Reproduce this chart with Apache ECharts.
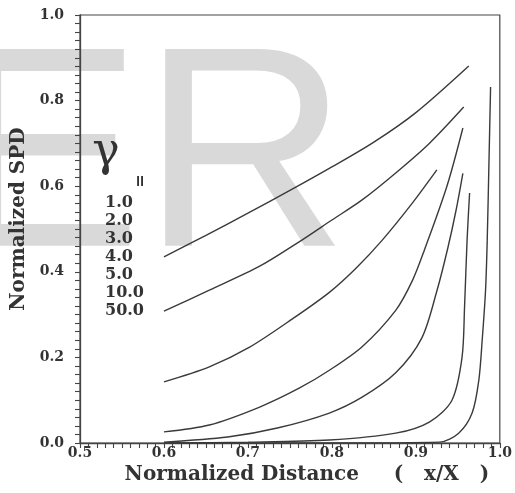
<!DOCTYPE html>
<html>
<head>
<meta charset="utf-8">
<script src="https://cdn.jsdelivr.net/npm/echarts@6/dist/echarts.min.js"></script>
<style>
html,body{margin:0;padding:0;background:#fff;}
#chart{width:515px;height:493px;}
</style>
</head>
<body>
<div id="chart"></div>
<script>
// ---- data ----
const gammaLabels = ['1.0', '2.0', '3.0', '4.0', '5.0', '10.0', '50.0'];

const x_g1  = [0.600, 0.650, 0.700, 0.750, 0.800, 0.850, 0.900, 0.963];
const y_g1  = [0.435, 0.485, 0.537, 0.590, 0.645, 0.703, 0.772, 0.881];

const x_g2  = [0.600, 0.654, 0.714, 0.761, 0.800, 0.836, 0.876, 0.916, 0.957];
const y_g2  = [0.308, 0.357, 0.413, 0.470, 0.521, 0.568, 0.631, 0.700, 0.785];

const x_g3  = [0.600, 0.654, 0.702, 0.753, 0.797, 0.829, 0.860, 0.896, 0.925];
const y_g3  = [0.143, 0.178, 0.224, 0.290, 0.352, 0.409, 0.474, 0.561, 0.638];

const x_g4  = [0.600, 0.654, 0.714, 0.761, 0.797, 0.836, 0.876, 0.896, 0.910, 0.937, 0.956];
const y_g4  = [0.026, 0.042, 0.084, 0.128, 0.170, 0.225, 0.310, 0.380, 0.450, 0.600, 0.736];

const x_g5  = [0.600, 0.676, 0.735, 0.797, 0.836, 0.876, 0.907, 0.925, 0.938, 0.948, 0.956];
const y_g5  = [0.002, 0.014, 0.035, 0.070, 0.107, 0.164, 0.245, 0.355, 0.455, 0.545, 0.630];

const x_g10 = [0.600, 0.700, 0.797, 0.876, 0.916, 0.943, 0.955, 0.958, 0.961, 0.964];
const y_g10 = [0.000, 0.002, 0.007, 0.023, 0.049, 0.100, 0.200, 0.318, 0.474, 0.584];

const x_g50 = [0.600, 0.800, 0.928, 0.951, 0.967, 0.975, 0.979, 0.983, 0.985, 0.987, 0.989];
const y_g50 = [0.000, 0.000, 0.002, 0.023, 0.070, 0.147, 0.240, 0.357, 0.474, 0.650, 0.832];

const xTicks = [0.5, 0.6, 0.7, 0.8, 0.9, 1.0];
const yTicks = [0.0, 0.2, 0.4, 0.6, 0.8, 1.0];

const xTitle = 'Normalized Distance     (   x/X   )';
const yTitle = 'Normalized SPD';
const watermark = 'ER';

// ---- build ----
const curves = [
  [x_g1, y_g1], [x_g2, y_g2], [x_g3, y_g3], [x_g4, y_g4],
  [x_g5, y_g5], [x_g10, y_g10], [x_g50, y_g50]
];
const pairs = (xs, ys) => xs.map((x, i) => [x, ys[i]]);

const INK = '#3a3a3a';
const SERIF = '"DejaVu Serif", "Liberation Serif", serif';

const series = curves.map((c, i) => ({
  name: 'γ = ' + gammaLabels[i],
  type: 'line',
  data: pairs(c[0], c[1]),
  showSymbol: false,
  symbol: 'none',
  smooth: 0.3,
  lineStyle: { color: INK, width: 1.4 },
  z: 3
}));

const chart = echarts.init(document.getElementById('chart'), null, { renderer: 'canvas' });
chart.setOption({
  animation: false,
  backgroundColor: '#ffffff',
  grid: {
    left: 80, right: 14, top: 15, bottom: 50,
    show: true, borderColor: '#444', borderWidth: 1.2, backgroundColor: 'transparent'
  },
  xAxis: {
    type: 'value', min: xTicks[0], max: xTicks[xTicks.length - 1], interval: 0.1,
    axisLine: { show: true, lineStyle: { color: '#444', width: 1.3 } },
    axisTick: { show: true, inside: false, length: 5, lineStyle: { color: '#444', width: 1.1 } },
    minorTick: { show: true, splitNumber: 10, length: 5, lineStyle: { color: '#444', width: 1.1 } },
    splitLine: { show: false },
    axisLabel: {
      margin: 3, color: '#333', fontFamily: SERIF, fontWeight: 'bold', fontSize: 14,
      formatter: v => v.toFixed(1)
    },
    name: xTitle, nameLocation: 'middle', nameGap: 19,
    nameTextStyle: { color: '#333', fontFamily: SERIF, fontWeight: 'bold', fontSize: 20, padding: [0, 0, 0, 34] }
  },
  yAxis: {
    type: 'value', min: yTicks[0], max: yTicks[yTicks.length - 1], interval: 0.2,
    axisLine: { show: true, lineStyle: { color: '#444', width: 1.3 } },
    axisTick: { show: true, inside: false, length: 5, lineStyle: { color: '#444', width: 1.1 } },
    minorTick: { show: true, splitNumber: 10, length: 5, lineStyle: { color: '#444', width: 1.1 } },
    splitLine: { show: false },
    axisLabel: {
      margin: 16, color: '#333', fontFamily: SERIF, fontWeight: 'bold', fontSize: 14,
      formatter: v => v.toFixed(1)
    },
    name: yTitle, nameLocation: 'middle', nameGap: 42,
    nameTextStyle: { color: '#333', fontFamily: SERIF, fontWeight: 'bold', fontSize: 20, padding: [0, 0, 0, 20] }
  },
  graphic: [
    {
      type: 'text', z: -10, silent: true,
      x: -49, y: 167,
      style: {
        text: watermark, fill: '#d9d9d9',
        font: 'normal 286px "Liberation Sans", Arial, sans-serif',
        align: 'left', verticalAlign: 'middle', textAlign: 'left', textVerticalAlign: 'middle'
      }
    },
    {
      type: 'text', z: 5, x: 106, y: 153,
      style: {
        text: 'γ', fill: '#333',
        font: 'normal 46px "DejaVu Serif", serif',
        align: 'center', verticalAlign: 'middle', textAlign: 'center', textVerticalAlign: 'middle'
      }
    },
    {
      type: 'text', z: 5, x: 141, y: 181, rotation: Math.PI / 2,
      style: {
        text: '=', fill: '#333',
        font: 'bold 16px ' + SERIF,
        align: 'center', verticalAlign: 'middle', textAlign: 'center', textVerticalAlign: 'middle'
      }
    },
    {
      type: 'text', z: 5, x: 105, y: 194,
      style: {
        text: gammaLabels.join('\n'), fill: '#333',
        font: 'bold 16px ' + SERIF, lineHeight: 18,
        align: 'left', verticalAlign: 'top', textAlign: 'left', textVerticalAlign: 'top'
      }
    }
  ],
  series: series
});
</script>
</body>
</html>
